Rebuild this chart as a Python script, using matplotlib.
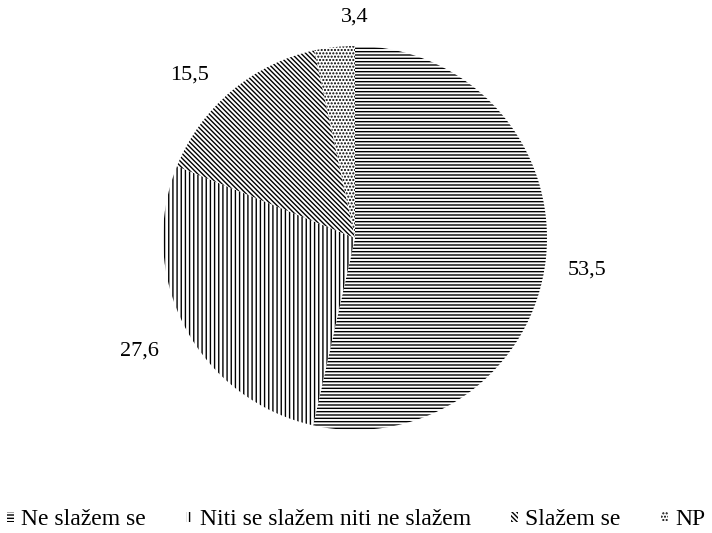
import matplotlib
matplotlib.use("Agg")
import numpy as np
import matplotlib.pyplot as plt
from matplotlib.patches import Patch

categories = ["Ne slažem se", "Niti se slažem niti ne slažem", "Slažem se", "NP"]
values = [53.5, 27.6, 15.5, 3.4]
value_labels = ["53,5", "27,6", "15,5", "3,4"]
hatches = ["-----", "||||", "\\" * 7, "....."]

# label placement (style): radial distance and angular nudge in degrees
label_dist = [1.22, 1.27, 1.21, 1.15]
label_nudge = [-1.5, 0.0, 5.2, -6.0]

plt.rcParams["font.family"] = ["Liberation Serif", "DejaVu Serif"]
plt.rcParams["hatch.linewidth"] = 1.0
plt.rcParams["hatch.color"] = "black"

fig = plt.figure(figsize=(7.12, 5.33), dpi=100)
ax = fig.add_axes([163/712, 103/533, 384/712, 384/533])
wedges, _ = ax.pie(values, startangle=90, counterclock=False, radius=1.0,
                   wedgeprops=dict(facecolor="white", edgecolor="white", linewidth=0))
for w, h, lab, d, nd in zip(wedges, hatches, value_labels, label_dist, label_nudge):
    w.set_hatch(h)
    w.set_edgecolor("black")
    w.set_linewidth(0)
    mid = np.deg2rad((w.theta1 + w.theta2) / 2 + nd)
    ax.text(d * np.cos(mid), d * np.sin(mid), lab, ha="center", va="center", fontsize=16)
ax.set_xlim(-1, 1)
ax.set_ylim(-1, 1)
ax.set_aspect("equal")
ax.axis("off")

handles = [Patch(facecolor="white", edgecolor="black", linewidth=0, hatch=h) for h in hatches]
fig.legend(handles, categories, loc="lower center", bbox_to_anchor=(0.5, -0.035), ncol=4,
           frameon=False, fontsize=17, handlelength=0.3, handleheight=0.3,
           handletextpad=0.3, columnspacing=1.7)
fig.savefig("out.png", dpi=100)
